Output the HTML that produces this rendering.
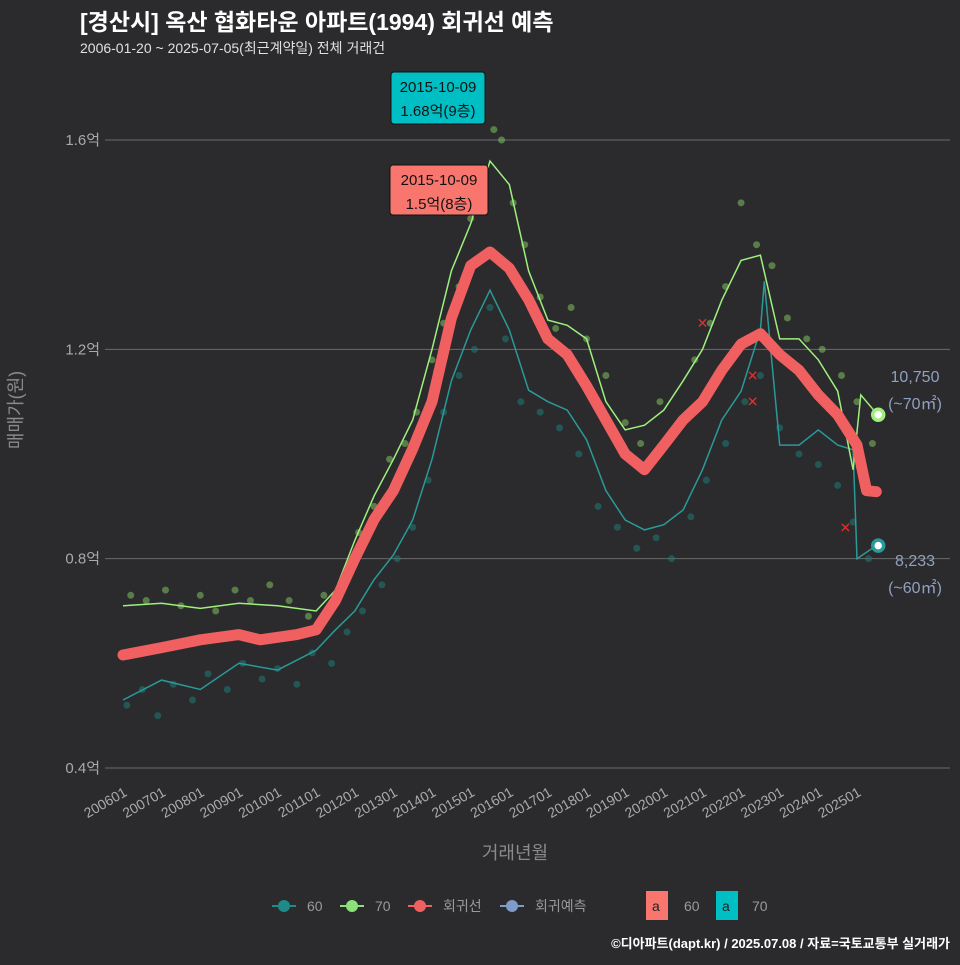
<!DOCTYPE html>
<html><head><meta charset="utf-8"><style>
body{margin:0;background:#2b2b2d;}
svg text{font-family:"Liberation Sans","Noto Sans CJK KR",sans-serif;}
</style></head><body>
<svg id="c" width="960" height="960" viewBox="0 0 960 960">
<rect width="960" height="960" fill="#2b2b2d"/>
<text x="80" y="30" font-size="23" font-weight="bold" fill="#ffffff">[경산시] 옥산 협화타운 아파트(1994) 회귀선 예측</text>
<text x="80" y="53" font-size="14" fill="#e0e0e0">2006-01-20 ~ 2025-07-05(최근계약일) 전체 거래건</text>
<g id="grid"></g><g id="pts"></g><g id="lines"></g><g id="ann"></g>
<text transform="translate(22,410) rotate(-90)" text-anchor="middle" font-size="18" fill="#8a8a8a">매매가(원)</text>
<text x="515" y="859" text-anchor="middle" font-size="18" fill="#8a8a8a">거래년월</text>
<g font-size="14" fill="#9a9a9a">
<g><line x1="272" y1="906" x2="296" y2="906" stroke="#1f8a8a" stroke-width="2"/><circle cx="284" cy="906" r="6" fill="#1f8a8a"/><text x="307" y="911">60</text></g>
<g><line x1="340" y1="906" x2="364" y2="906" stroke="#8be07a" stroke-width="2"/><circle cx="352" cy="906" r="6" fill="#8be07a"/><text x="375" y="911">70</text></g>
<g><line x1="408" y1="906" x2="432" y2="906" stroke="#f06060" stroke-width="2"/><circle cx="420" cy="906" r="6" fill="#f06060"/><text x="443" y="911">회귀선</text></g>
<g><line x1="500" y1="906" x2="524" y2="906" stroke="#7f9cc8" stroke-width="2"/><circle cx="512" cy="906" r="6" fill="#7f9cc8"/><text x="535" y="911">회귀예측</text></g>
<g><rect x="646" y="891" width="22" height="29" fill="#f8766d"/><text x="652" y="911" fill="#222">a</text><text x="684" y="911">60</text></g>
<g><rect x="716" y="891" width="22" height="29" fill="#00bfc4"/><text x="722" y="911" fill="#222">a</text><text x="752" y="911">70</text></g>
</g>
<text x="950" y="948" text-anchor="end" font-size="13" font-weight="bold" fill="#ffffff">©디아파트(dapt.kr) / 2025.07.08 / 자료=국토교통부 실거래가</text>
</svg>
<script>
const yTicks=[0.4,0.8,1.2,1.6];
const yTickLabels=["0.4억","0.8억","1.2억","1.6억"];
const xYears=[2006,2007,2008,2009,2010,2011,2012,2013,2014,2015,2016,2017,2018,2019,2020,2021,2022,2023,2024,2025];
const xTickLabels=["200601","200701","200801","200901","201001","201101","201201","201301","201401","201501","201601","201701","201801","201901","202001","202101","202201","202301","202401","202501"];
const regT=[2006,2007,2008,2009,2009.55,2010.5,2011,2011.5,2012,2012.5,2013,2013.5,2014,2014.5,2015,2015.5,2016,2016.5,2017,2017.5,2018,2018.5,2019,2019.5,2020,2020.5,2021,2021.5,2022,2022.5,2023,2023.5,2024,2024.5,2025,2025.25,2025.5];
const regV=[0.616,0.63,0.645,0.655,0.645,0.655,0.664,0.72,0.80,0.875,0.93,1.01,1.10,1.26,1.36,1.386,1.355,1.295,1.22,1.19,1.13,1.065,1.0,0.97,1.017,1.065,1.10,1.16,1.21,1.23,1.19,1.16,1.113,1.075,1.017,0.93,0.928];
const s70T=[2006,2007,2008,2009,2010,2011,2011.5,2012,2012.5,2013,2013.5,2014,2014.5,2015,2015.5,2016,2016.5,2017,2017.5,2018,2018.5,2019,2019.5,2020,2020.5,2021,2021.5,2022,2022.5,2023,2023.5,2024,2024.5,2024.9,2025.1,2025.5];
const s70V=[0.71,0.715,0.705,0.715,0.71,0.70,0.74,0.835,0.92,0.99,1.065,1.2,1.35,1.44,1.56,1.515,1.35,1.256,1.246,1.22,1.1,1.046,1.055,1.084,1.14,1.2,1.294,1.37,1.38,1.22,1.22,1.18,1.12,0.97,1.113,1.078];
const s60T=[2006,2007,2008,2009,2010,2011,2011.5,2012,2012.5,2013,2013.5,2014,2014.5,2015,2015.5,2016,2016.5,2017,2017.5,2018,2018.5,2019,2019.5,2020,2020.5,2021,2021.5,2022,2022.5,2022.6,2023,2023.5,2024,2024.5,2024.9,2025.0,2025.5];
const s60V=[0.53,0.568,0.55,0.6,0.587,0.625,0.664,0.70,0.76,0.807,0.874,0.99,1.14,1.237,1.313,1.237,1.122,1.10,1.084,1.027,0.93,0.874,0.855,0.865,0.893,0.97,1.065,1.12,1.237,1.33,1.017,1.017,1.046,1.017,1.008,0.80,0.825];
const pts70T=[2006.2,2006.6,2007.1,2007.5,2008.0,2008.4,2008.9,2009.3,2009.8,2010.3,2010.8,2011.2,2011.7,2012.1,2012.5,2012.9,2013.3,2013.6,2014.0,2014.3,2014.7,2015.0,2015.3,2015.6,2015.8,2016.1,2016.4,2016.8,2017.2,2017.6,2018.0,2018.5,2019.0,2019.4,2019.9,2020.3,2020.8,2021.2,2021.6,2022.0,2022.4,2022.8,2023.2,2023.7,2024.1,2024.6,2025.0,2025.4];
const pts70V=[0.73,0.72,0.74,0.71,0.73,0.70,0.74,0.72,0.75,0.72,0.69,0.73,0.76,0.85,0.90,0.99,1.02,1.08,1.18,1.25,1.32,1.45,1.50,1.62,1.60,1.48,1.40,1.30,1.24,1.28,1.22,1.15,1.06,1.02,1.10,1.05,1.18,1.25,1.32,1.48,1.40,1.36,1.26,1.22,1.20,1.15,1.10,1.02];
const pts60T=[2006.1,2006.5,2006.9,2007.3,2007.8,2008.2,2008.7,2009.1,2009.6,2010.0,2010.5,2010.9,2011.4,2011.8,2012.2,2012.7,2013.1,2013.5,2013.9,2014.3,2014.7,2015.1,2015.5,2015.9,2016.3,2016.8,2017.3,2017.8,2018.3,2018.8,2019.3,2019.8,2020.2,2020.7,2021.1,2021.6,2022.1,2022.5,2023.0,2023.5,2024.0,2024.5,2024.9,2025.3];
const pts60V=[0.52,0.55,0.50,0.56,0.53,0.58,0.55,0.60,0.57,0.59,0.56,0.62,0.60,0.66,0.70,0.75,0.80,0.86,0.95,1.08,1.15,1.20,1.28,1.22,1.10,1.08,1.05,1.00,0.90,0.86,0.82,0.84,0.80,0.88,0.95,1.02,1.10,1.15,1.05,1.00,0.98,0.94,0.87,0.80];
const outT=[2021.0,2022.3,2022.3,2024.7];
const outV=[1.25,1.15,1.10,0.86];

const NS="http://www.w3.org/2000/svg";
const X=t=>123+(t-2006)*38.63;
const Y=v=>768-(v-0.4)*523.3;
function mk(tag,parent,attrs){const e=document.createElementNS(NS,tag);for(const k in attrs)e.setAttribute(k,attrs[k]);document.getElementById(parent).appendChild(e);return e;}
yTicks.forEach((v,i)=>{
 const l=mk('line','grid',{x1:105,x2:950,y1:Y(v),y2:Y(v),stroke:'#6a6a6a','stroke-width':1});
 
 
 const t=mk('text','grid',{x:100,y:Y(v)+5,'text-anchor':'end','font-size':15,fill:'#aaaaaa'});
 t.textContent=yTickLabels[i];
 
 
});
xYears.forEach((yr,i)=>{
 const t=mk('text','grid',{transform:`translate(${X(yr)+5},${795}) rotate(-30)`,'text-anchor':'end','font-size':14,fill:'#aaaaaa'});
 t.textContent=xTickLabels[i];
 
 
});
pts60T.forEach((t,i)=>{const c=mk('circle','pts',{cx:X(t),cy:Y(pts60V[i]),r:3.5,fill:'#1f7a78','fill-opacity':0.55});
 
 });
pts70T.forEach((t,i)=>{const c=mk('circle','pts',{cx:X(t),cy:Y(pts70V[i]),r:3.5,fill:'#7fbf60','fill-opacity':0.55});
 
 });
function path(T,V){return T.map((t,i)=>(i?'L':'M')+X(t).toFixed(1)+','+Y(V[i]).toFixed(1)).join('');}
let p=mk('path','lines',{d:path(s60T,s60V),fill:'none',stroke:'#2a9a98','stroke-width':1.5});


p=mk('path','lines',{d:path(s70T,s70V),fill:'none',stroke:'#9ef07e','stroke-width':1.5});


p=mk('path','lines',{d:path(regT,regV),fill:'none',stroke:'#f06060','stroke-width':11,'stroke-linecap':'round','stroke-linejoin':'round'});


outT.forEach((t,i)=>{const g=mk('text','lines',{x:X(t),y:Y(outV[i])+5,'text-anchor':'middle','font-size':14,fill:'#e03030'});g.textContent='✕';
 
 });
let e=mk('circle','lines',{cx:X(2025.55),cy:Y(1.075),r:5.5,fill:'#fff',stroke:'#9ef07e','stroke-width':3.5});


e=mk('circle','lines',{cx:X(2025.55),cy:Y(0.825),r:5.5,fill:'#fff',stroke:'#2a9a98','stroke-width':3.5});


[["10,750",915,382],["(~70㎡)",915,409],["8,233",915,566],["(~60㎡)",915,593]].forEach(a=>{
 const t=mk('text','ann',{x:a[1],y:a[2],'text-anchor':'middle','font-size':16,fill:'#8fa0c0'});t.textContent=a[0];
 
 
});
function box(x,y,w,h,fill,l1,l2,name){
 const r=mk('rect','ann',{x:x,y:y,width:w,height:h,rx:3,fill:fill,stroke:'#111','stroke-width':1});
 
 
 let t=mk('text','ann',{x:x+w/2,y:y+20,'text-anchor':'middle','font-size':15,fill:'#111'});t.textContent=l1;
 t=mk('text','ann',{x:x+w/2,y:y+44,'text-anchor':'middle','font-size':15,fill:'#111'});t.textContent=l2;
}
box(391,72,94,52,'#00bfc4','2015-10-09','1.68억(9층)','max-label-70');
box(390,165,98,50,'#f8766d','2015-10-09','1.5억(8층)','max-label-60');
</script>
</body></html>
